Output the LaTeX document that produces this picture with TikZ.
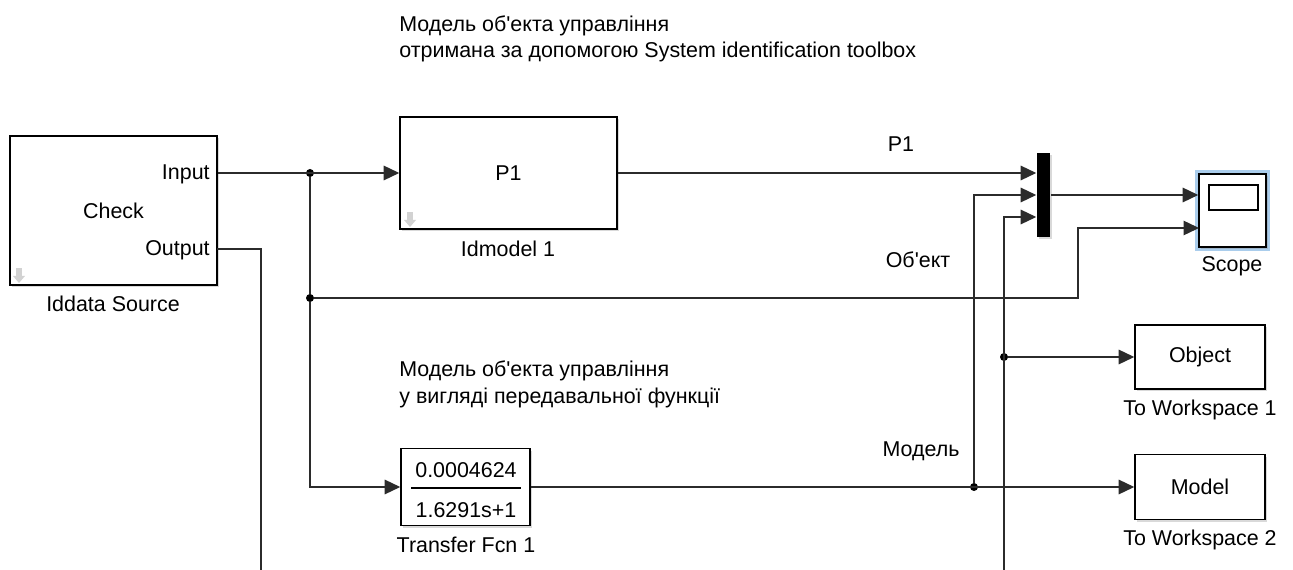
\documentclass[tikz,border=0pt]{standalone}
\usepackage{fontspec}
\setmainfont{Liberation Sans}
\usepackage{tikz}
\usetikzlibrary{arrows.meta,shadows,calc}
\definecolor{wirec}{HTML}{2B2B2B}
\definecolor{scopehl}{HTML}{AACDEC}
\newcommand{\portmark}[2] % {x}{y} petite fleche grise, y = haut
{
	\fill [gray!35] (#1-3,#2) rectangle (#1+3,#2+8);
	\fill [gray!35] (#1-6,#2+8) -- (#1+6,#2+8) -- (#1,#2+15) -- cycle;
}
\newcommand{\apos}{\textquotesingle}
\tikzset{
	block/.style={draw=black, line width=0.9pt, fill=white, inner sep=0pt,
		drop shadow={shadow xshift=1.2pt, shadow yshift=-1.2pt, opacity=0.3}},
	wire/.style={draw=wirec, line width=0.75pt},
	sig/.style={wire, -{Triangle[length=0.31cm, width=0.29cm]}},
	dot/.style={circle, fill=black, inner sep=0pt, minimum size=0.16cm},
	lbl/.style={inner sep=0pt}
}
\begin{document}
\begin{tikzpicture}[x=0.02cm, y=-0.02cm, font=\fontsize{12.2}{15}\selectfont]
	\useasboundingbox (0,0) rectangle (1293,570);
	
	%titres
	\node [lbl, anchor=base west] (title1a) at (399,32) {Модель об\apos екта управління};
	\node [lbl, anchor=base west] (title1b) at (399,58) {отримана за допомогою System identification toolbox};
	\node [lbl, anchor=base west] (title2a) at (399,377) {Модель об\apos екта управління};
	\node [lbl, anchor=base west] (title2b) at (399,403) {у вигляді передавальної функції};
	
	%blocs
	\node [block, minimum width=4.14cm, minimum height=2.98cm] (src) at (113.5,210.5) {Check};
	\node [block, minimum width=4.34cm, minimum height=2.24cm] (idm) at (508.5,173) {P1};
	\node [block, minimum width=2.58cm, minimum height=1.54cm] (tf) at (465.5,487) {};
	\node [block, draw=none, fill=black, minimum width=0.26cm, minimum height=1.68cm] (mux) at (1043.5,195) {};
	\node [block, minimum width=2.6cm, minimum height=1.28cm] (obj) at (1200,357) {Object};
	\node [block, minimum width=2.6cm, minimum height=1.3cm] (mdl) at (1200,487) {Model};
	\draw [scopehl, line width=1.8pt] (1196.5,171.5) rectangle (1268.5,249.5);
	\node [block, drop shadow={opacity=0}, minimum width=1.34cm, minimum height=1.46cm] (scope) at (1232.5,210.5) {};
	\draw [line width=1pt] (1209,185) rectangle (1258,210);
	
	\portmark{19}{268}
	\portmark{410}{212}
	
	%textes des blocs
	\node [lbl, anchor=base east] (inlbl) at (210,180) {Input};
	\node [lbl, anchor=base east] (outlbl) at (210,256) {Output};
	\node [lbl, anchor=base] (tfnum) at (466,477) {0.0004624};
	\node [lbl, anchor=base] (tfden) at (466,517) {1.6291s+1};
	\draw [line width=0.9pt] (411,488) -- (521,488);
	
	%noms des blocs
	\node [lbl, anchor=base] (srccap) at (113,312) {Iddata Source};
	\node [lbl, anchor=base] (idmcap) at (508,257) {Idmodel 1};
	\node [lbl, anchor=base] (tfcap) at (466,552) {Transfer Fcn 1};
	\node [lbl, anchor=base] (scopecap) at (1232,272) {Scope};
	\node [lbl, anchor=base] (objcap) at (1200,415) {To Workspace 1};
	\node [lbl, anchor=base] (mdlcap) at (1200,545) {To Workspace 2};
	
	%noms des signaux
	\node [lbl, anchor=base] (p1lbl) at (901,152) {P1};
	\node [lbl, anchor=base] (objlbl) at (918,268) {Об\apos ект};
	\node [lbl, anchor=base] (mdllbl) at (921,456) {Модель};
	
	%points et ports
	\coordinate (srcin) at (src.east |- idm);
	\coordinate (srcout) at (217,249);
	\coordinate (outend) at (261,570);
	\coordinate (muxin3) at ($(mux.west)+(0,22)$);
	\coordinate (scin1) at (scope.west |- mux);
	\coordinate (scin2) at (1199,228);
	\coordinate (bend) at (1004,570);
	\node [dot] (j1) at (310,173) {};
	\node [dot] (j2) at (310,298) {};
	\node [dot] (j3) at (974,487) {};
	\node [dot] (j4) at (1004,357) {};
	
	%liaisons
	\draw [sig] (srcin) -- (idm.west);
	\draw [wire] (j1) -- (j2);
	\draw [sig] (j2) |- (tf.west);
	\draw [sig] (j2) -- (1078,298) |- (scin2);
	\draw [wire] (srcout) -| (outend);
	\draw [sig] (idm.east) -- (mux.west |- idm);
	\draw [sig] (mux.east) -- (scin1);
	\draw [sig] (tf.east) -- (mdl.west);
	\draw [sig] (j3) |- (mux.west);
	\draw [sig] (bend) |- (muxin3);
	\draw [sig] (j4) -- (obj.west);
	
\end{tikzpicture}
\end{document}
